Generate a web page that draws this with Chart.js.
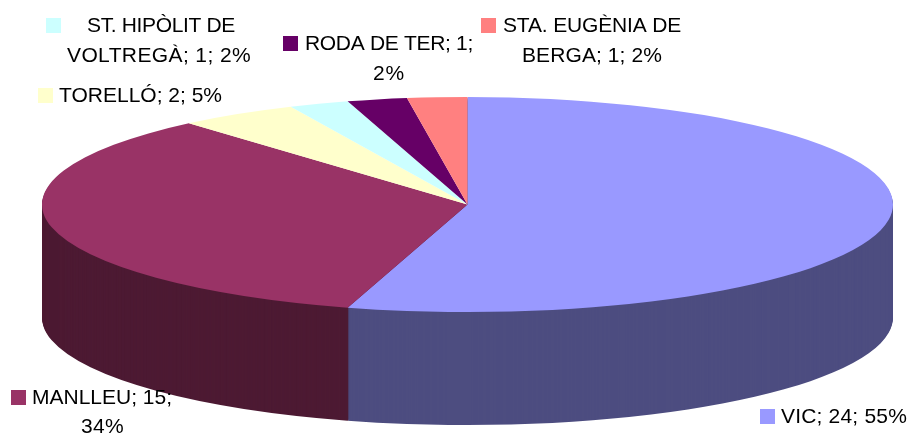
<!DOCTYPE html>
<html>
<head>
<meta charset="utf-8">
<style>html,body{margin:0;padding:0;background:#fff}canvas{display:block}</style>
<script src="https://cdn.jsdelivr.net/npm/chart.js@4"></script>
</head>
<body>
<canvas id="c" width="913" height="435"></canvas>
<script>
const categories = ['VIC', 'MANLLEU', 'TORELLÓ', 'ST. HIPÒLIT DE VOLTREGÀ', 'RODA DE TER', 'STA. EUGÈNIA DE BERGA'];
const values = [24, 15, 2, 1, 1, 1];
const faceColors = ['#9999FF', '#993366', '#FFFFCC', '#CCFFFF', '#660066', '#FF8080'];
const wallColors = ['#4D4D80', '#4D1A33', '#80806A', '#6A8080', '#330033', '#804040'];

// Projection of the tilted pie
const centerX = 467.5, centerY = 204.5, radiusX = 425.5, radiusY = 107.5, wallDepth = 113;

// Data-label layout: key box, break position in the text, and left x / baseline y / width per line
const labelLayout = [
  {key: [760, 409], breakAt: null, lines: [[781, 423, 126]]},
  {key: [11, 390], breakAt: 12, lines: [[32, 404, 140], [81, 433, 43]]},
  {key: [38, 88], breakAt: null, lines: [[59, 102, 163]]},
  {key: [46, 18], breakAt: 14, lines: [[87, 32, 148], [67, 62, 184]]},
  {key: [283, 36], breakAt: 15, lines: [[305, 50, 168], [373, 80, 32]]},
  {key: [481, 18], breakAt: 15, lines: [[503, 32, 178], [522, 62, 140]]}
];
const labelFont = '21px "Liberation Sans", Arial, sans-serif';
const keySize = 15;

const total = values.reduce((a, b) => a + b, 0);
const labelText = i => `${categories[i]}; ${values[i]}; ${Math.round(values[i] / total * 100)}%`;

function project(ctx, arc) {
  ctx.translate(centerX, centerY);
  ctx.scale(radiusX / arc.outerRadius, radiusY / arc.outerRadius);
  ctx.translate(-arc.x, -arc.y);
}

const tiltedPie = {
  id: 'tiltedPie',
  beforeDatasetsDraw(chart) {
    const ctx = chart.ctx;
    const arcs = chart.getDatasetMeta(0).data;
    // side wall: stacked copies of the front slices, darkened
    for (let d = wallDepth; d >= 1; d--) {
      ctx.save();
      ctx.translate(0, d);
      project(ctx, arcs[0]);
      arcs.forEach((arc, i) => {
        const front = Math.sin(arc.startAngle) > 0 || Math.sin(arc.endAngle) > 0;
        if (!front) return;
        const saved = arc.options;
        arc.options = Object.assign({}, saved, {backgroundColor: wallColors[i]});
        arc.draw(ctx);
        arc.options = saved;
      });
      ctx.restore();
    }
    ctx.save();
    project(ctx, arcs[0]);
  },
  afterDatasetsDraw(chart) {
    const ctx = chart.ctx;
    ctx.restore();
    ctx.save();
    ctx.font = labelFont;
    ctx.textAlign = 'left';
    ctx.textBaseline = 'alphabetic';
    labelLayout.forEach((layout, i) => {
      ctx.fillStyle = faceColors[i];
      ctx.fillRect(layout.key[0], layout.key[1], keySize, keySize);
      const text = labelText(i);
      const parts = layout.breakAt === null ? [text]
        : [text.slice(0, layout.breakAt).trim(), text.slice(layout.breakAt).trim()];
      ctx.fillStyle = '#000000';
      parts.forEach((line, j) => {
        const [x, y, width] = layout.lines[j];
        ctx.letterSpacing = '0px';
        const natural = ctx.measureText(line).width;
        ctx.letterSpacing = ((width - natural) / line.length).toFixed(3) + 'px';
        ctx.fillText(line, x, y);
      });
    });
    ctx.restore();
  }
};

new Chart(document.getElementById('c'), {
  type: 'pie',
  data: {
    labels: categories,
    datasets: [{data: values, backgroundColor: faceColors, borderWidth: 0, clip: false}]
  },
  options: {
    responsive: false,
    animation: false,
    layout: {padding: 0},
    plugins: {legend: {display: false}, tooltip: {enabled: false}}
  },
  plugins: [tiltedPie]
});
</script>
</body>
</html>
